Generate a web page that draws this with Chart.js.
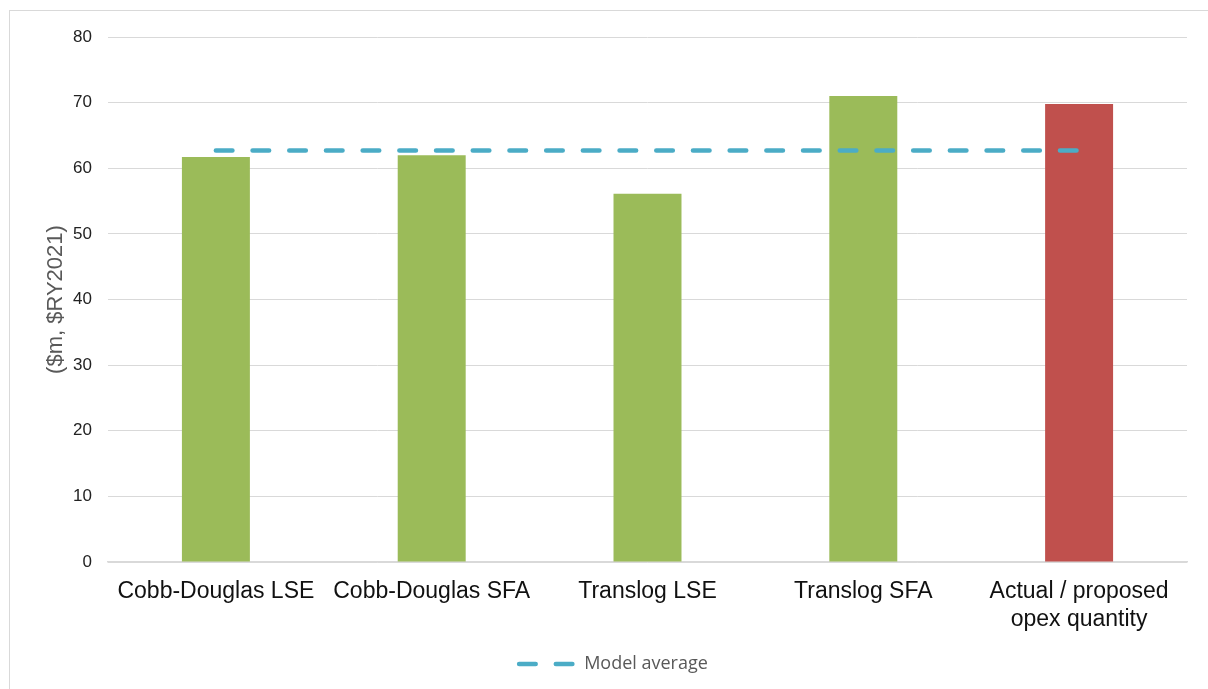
<!DOCTYPE html>
<html>
<head>
<meta charset="utf-8">
<title>Opex forecast by model</title>
<script src="https://cdn.jsdelivr.net/npm/chart.js@4.4.1/dist/chart.umd.min.js"></script>
<style>
  html, body { margin: 0; padding: 0; background: #ffffff; overflow: hidden; }
  #wrap { position: relative; width: 1208px; height: 689px; }
  #frame {
    position: absolute; left: 9px; top: 10px; width: 1400px; height: 900px;
    border-top: 1.5px solid #d9d9d9; border-left: 1.5px solid #d9d9d9;
    pointer-events: none;
  }
  canvas { position: absolute; left: 0; top: 0; }
</style>
</head>
<body>
<div id="wrap">
  <div id="frame"></div>
  <canvas id="chart" width="1208" height="689"></canvas>
</div>
<script>
// Categories along the x axis
const categories = [
  'Cobb-Douglas LSE',
  'Cobb-Douglas SFA',
  'Translog LSE',
  'Translog SFA',
  ['Actual / proposed', 'opex quantity']
];

// Opex forecast per model, $m real 2021
const opexValues = [61.7, 62.0, 56.1, 71.0, 69.8];

// Average of the four model forecasts
const modelAverage = [62.7, 62.7, 62.7, 62.7, 62.7];

// Y axis range and step
const yMin = 0;
const yMax = 80;
const yStep = 10;

const barColors = ['#9bbb59', '#9bbb59', '#9bbb59', '#9bbb59', '#c0504d'];
const avgDash = [16.5, 20.2];

new Chart(document.getElementById('chart'), {
  type: 'bar',
  data: {
    labels: categories,
    datasets: [
      {
        type: 'line',
        label: 'Model average',
        data: modelAverage,
        borderColor: '#4bacc6',
        backgroundColor: '#4bacc6',
        borderWidth: 4.6,
        borderDash: avgDash,
        borderCapStyle: 'round',
        pointRadius: 0,
        pointHoverRadius: 0,
        fill: false,
        order: 0
      },
      {
        type: 'bar',
        label: 'Opex',
        data: opexValues,
        backgroundColor: barColors,
        borderWidth: 0,
        categoryPercentage: 1.0,
        barPercentage: 0.315,
        order: 1
      }
    ]
  },
  options: {
    responsive: false,
    animation: false,
    devicePixelRatio: 1,
    layout: { padding: { left: 40, right: 21, top: 37, bottom: 6 } },
    plugins: {
      tooltip: { enabled: false },
      legend: {
        position: 'bottom',
        labels: {
          usePointStyle: true,
          pointStyle: 'line',
          pointStyleWidth: 56,
          padding: 10,
          color: '#595959',
          font: { family: '"Open Sans", sans-serif', size: 18 },
          // legend shows only the average line, drawn dashed like the series
          generateLabels: (chart) => {
            const items = Chart.defaults.plugins.legend.labels.generateLabels(chart);
            return items
              .filter((item) => item.text === 'Model average')
              .map((item) => {
                const ds = chart.data.datasets[item.datasetIndex];
                return Object.assign(item, {
                  lineDash: ds.borderDash,
                  lineCap: ds.borderCapStyle,
                  lineWidth: ds.borderWidth,
                  strokeStyle: ds.borderColor,
                  pointStyle: 'line'
                });
              });
          }
        }
      }
    },
    scales: {
      x: {
        grid: { display: false, drawTicks: false },
        border: { display: true, color: '#d9d9d9', width: 1.5 },
        ticks: {
          color: '#111111',
          font: { family: 'Arial, "Liberation Sans", sans-serif', size: 23 },
          padding: 16,
          maxRotation: 0,
          autoSkip: false
        },
        afterFit: (scale) => { scale.height = 83; }
      },
      y: {
        min: yMin,
        max: yMax,
        grid: { color: '#d9d9d9', lineWidth: 1, drawTicks: false },
        border: { display: false },
        ticks: {
          stepSize: yStep,
          color: '#222222',
          font: { family: 'Arial, "Liberation Sans", sans-serif', size: 17 },
          padding: 16
        },
        title: {
          display: true,
          text: '($m, $RY2021)',
          color: '#595959',
          font: { family: 'Arial, "Liberation Sans", sans-serif', size: 22 },
          padding: { top: 3, bottom: 0 }
        },
        afterFit: (scale) => { scale.width = 68; }
      }
    }
  }
});
</script>
</body>
</html>
